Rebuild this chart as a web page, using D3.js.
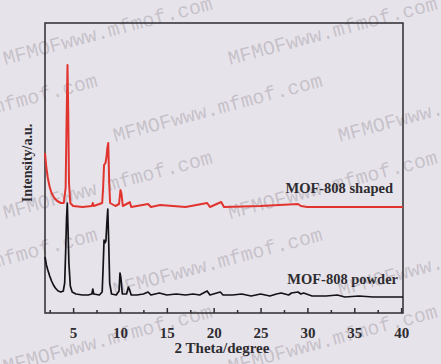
<!DOCTYPE html>
<html>
<head>
<meta charset="utf-8">
<script src="https://cdn.jsdelivr.net/npm/d3@7"></script>
<style>
  body { margin: 0; background: #e7e3ea; }
  svg { display: block; }
  .tick text { font-family: "Liberation Serif", serif; font-weight: bold; }
</style>
</head>
<body>
<svg id="chart"></svg>
<script>
// 2 theta (degree) and intensity (a.u., already offset for stacking)
const powderX = [2.0, 2.15, 2.3, 2.5, 2.7, 2.9, 3.1, 3.4, 3.7, 3.95, 4.1, 4.2, 4.3, 4.38, 4.45, 4.55, 4.7, 4.9, 5.3, 6.0,
    6.6, 7.0, 7.1, 7.2, 7.8, 8.1, 8.2, 8.3, 8.4, 8.5, 8.6, 8.7, 8.8, 8.9, 9.1, 9.6, 9.9, 10.0, 10.1, 10.25,
    10.7, 10.9, 11.0, 11.2, 11.8, 12.5, 13.0, 13.3, 14.2, 15.0, 16.0, 17.0, 17.8, 18.5, 19.3, 19.6, 20.7, 21.0, 22.0, 23.0,
    24.0, 25.0, 26.0, 26.7, 27.2, 28.0, 28.3, 29.0, 29.3, 29.6, 30.5, 32.0, 33.2, 34.0, 35.5, 37.0, 38.5, 40.2];
const powderY = [56, 48, 43, 37, 32, 28, 25, 22, 21, 22, 30, 60, 95, 110, 85, 50, 27, 21, 19, 18,
    18, 19, 24, 19, 18, 21, 45, 73, 70, 72, 90, 104, 70, 30, 19, 18, 22, 40, 35, 19,
    19, 26, 24, 18, 18, 19, 21, 18, 20, 18, 19, 18, 19, 18, 22, 18, 21, 18, 18, 19,
    17, 19, 17, 19, 20, 18, 20, 21, 19, 20, 17, 17, 18, 16, 17, 16, 16, 16];

const shapedX = [2.0, 2.15, 2.3, 2.5, 2.7, 3.0, 3.3, 3.7, 4.0, 4.2, 4.3, 4.4, 4.48, 4.56, 4.7, 5.0, 6.0, 7.0, 7.1, 7.2,
    8.1, 8.2, 8.3, 8.45, 8.55, 8.65, 8.75, 8.85, 8.95, 9.5, 9.9, 10.05, 10.15, 10.3, 10.9, 11.05, 11.2, 13.0, 13.3, 14.3,
    17.0, 19.3, 19.6, 20.8, 21.1, 25.0, 29.0, 29.3, 30.0, 40.2];
const shapedY = [160, 145, 135, 126, 120, 115, 112, 110, 110, 125, 190, 248, 200, 130, 110, 107, 106, 107, 110, 107,
    110, 125, 148, 150, 155, 165, 170, 130, 110, 107, 109, 123, 120, 107, 110, 111, 106, 109, 106, 108,
    106, 110, 106, 111, 106, 107, 109, 107, 106, 106];

const majorTicks = [5, 10, 15, 20, 25, 30, 35, 40];
const minorTicks = [2.5, 7.5, 12.5, 17.5, 22.5, 27.5, 32.5, 37.5];
const seriesLabels = ["MOF-808 shaped", "MOF-808 powder"];

const W = 441, H = 364;
const plot = { left: 45, right: 403, top: 23, bottom: 313 };

const svg = d3.select("#chart").attr("width", W).attr("height", H);

svg.append("rect").attr("width", W).attr("height", H).attr("fill", "#e7e3ea");

const x = d3.scaleLinear().domain([2, 40.2]).range([plot.left, plot.right]);
const y = d3.scaleLinear().domain([0, 290]).range([plot.bottom, plot.top]);

const line = d3.line()
    .x(d => x(d[0]))
    .y(d => y(d[1]));

// watermark (drawn under the chart)
const wm = svg.append("g").attr("pointer-events", "none");
for (let row = 0; row < 5; row++) {
    const y0 = 65 + row * 77;
    const offset = row % 2 === 0 ? 5 : -110;
    for (let col = 0; col < 3; col++) {
        const x0 = offset + col * 225;
        wm.append("text")
            .attr("transform", "translate(" + x0 + "," + y0 + ") rotate(-15)")
            .attr("font-family", "'Liberation Mono', monospace").attr("font-size", 20)
            .attr("fill", "#8f8a94").attr("fill-opacity", 0.38)
            .text("MFMOFwww.mfmof.com");
    }
}

// frame
svg.append("rect")
    .attr("x", plot.left).attr("y", plot.top)
    .attr("width", plot.right - plot.left).attr("height", plot.bottom - plot.top)
    .attr("fill", "none").attr("stroke", "#2e2c30").attr("stroke-width", 1.5);

svg.append("path")
    .datum(d3.zip(powderX, powderY))
    .attr("fill", "none").attr("stroke", "#141216").attr("stroke-width", 1.7)
    .attr("stroke-linejoin", "round")
    .attr("d", line);

svg.append("path")
    .datum(d3.zip(shapedX, shapedY))
    .attr("fill", "none").attr("stroke", "#e2342f").attr("stroke-width", 2)
    .attr("stroke-linejoin", "round")
    .attr("d", line);

// bottom axis, ticks pointing inward
const xAxis = svg.append("g")
    .attr("transform", "translate(0," + plot.bottom + ")")
    .call(d3.axisBottom(x).tickValues(majorTicks).tickSize(-5).tickPadding(14).tickFormat(d3.format("d")));
xAxis.select(".domain").remove();
xAxis.selectAll("line").attr("stroke", "#2e2c30").attr("stroke-width", 1.5);
xAxis.selectAll("text").attr("font-size", 15).attr("fill", "#2e2c30");

svg.append("g")
    .attr("transform", "translate(0," + plot.bottom + ")")
    .call(d3.axisBottom(x).tickValues(minorTicks).tickSize(-3).tickFormat(""))
    .call(g => g.select(".domain").remove())
    .selectAll("line").attr("stroke", "#2e2c30").attr("stroke-width", 1.5);

const serif = "'Liberation Serif', 'DejaVu Serif', serif";

svg.append("text")
    .attr("x", 222).attr("y", 353)
    .attr("text-anchor", "middle")
    .attr("font-family", serif).attr("font-weight", "bold").attr("font-size", 15)
    .attr("fill", "#2e2c30")
    .text("2 Theta/degree");

svg.append("text")
    .attr("transform", "translate(32,163) rotate(-90)")
    .attr("text-anchor", "middle")
    .attr("font-family", serif).attr("font-weight", "bold").attr("font-size", 14)
    .attr("fill", "#2e2c30")
    .text("Intensity/a.u.");

svg.append("text")
    .attr("x", 393).attr("y", 193)
    .attr("text-anchor", "end")
    .attr("font-family", serif).attr("font-weight", "bold").attr("font-size", 14.5)
    .attr("fill", "#2e2c30")
    .text(seriesLabels[0]);

svg.append("text")
    .attr("x", 398).attr("y", 284)
    .attr("text-anchor", "end")
    .attr("font-family", serif).attr("font-weight", "bold").attr("font-size", 14.5)
    .attr("fill", "#2e2c30")
    .text(seriesLabels[1]);
</script>
</body>
</html>
